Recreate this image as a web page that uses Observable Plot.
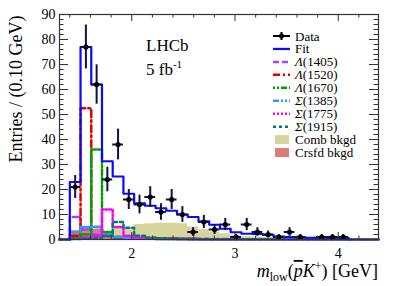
<!DOCTYPE html>
<html><head><meta charset="utf-8">
<script src="https://cdn.jsdelivr.net/npm/d3@7"></script>
<script src="https://cdn.jsdelivr.net/npm/@observablehq/plot@0.6"></script>
<style>body{margin:0;background:#fff}#chart{position:relative;width:399px;height:286px}</style>
</head><body><div id="chart"></div>
<script>
// ---- data ----
const xDomain = [1.3, 4.39];
const yDomain = [0, 90];
const binRange = [1.4, 4.1];
const nBins = 26;
const dataCounts = [21,77,62,24,38,16,14,17,11,16,10,3,7,4,6,1,6,3,2,1,3,1,0,1,1,1];
const fitValues  = [23,77,62,31.3,25.2,18.3,14.5,13.5,12.5,11.5,10,9,7.3,5.9,4.3,2.9,2.3,2.2,1.9,1.2,1.0,0.9,0.7,0.7,0.7,0.7];
const lambda1405 = [9,4,2,1.2,1,0.8,0.6,0.5,0.4,0.4,0.3,0.3,0.2,0.2,0.2,0.2,0.1,0.1,0.1,0.1,0.1,0.1,0.1,0.1,0.1,0.1];
const lambda1520 = [1.5,52.5,5,1.5,0.8,0.5,0.4,0.3,0.3,0.2,0.2,0.2,0.1,0.1,0.1,0.1,0.1,0.1,0.1,0.1,0.1,0.1,0.1,0.1,0.1,0.1];
const lambda1670 = [0.5,2,36,3,1,0.6,0.4,0.3,0.2,0.2,0.2,0.1,0.1,0.1,0.1,0.1,0.1,0.1,0.1,0.1,0.1,0.1,0.1,0.1,0.1,0.1];
const sigma1385  = [3,5,5,2,1,0.6,0.4,0.3,0.2,0.2,0.1,0.1,0.1,0.1,0.1,0.1,0.1,0.1,0.1,0.1,0.1,0.1,0.1,0.1,0.1,0.1];
const sigma1775  = [0.3,0.8,1.5,12,5,1.5,0.8,0.5,0.4,0.3,0.2,0.2,0.1,0.1,0.1,0.1,0.1,0.1,0.1,0.1,0.1,0.1,0.1,0.1,0.1,0.1];
const sigma1915  = [0.2,0.3,0.5,1.5,7,4.7,1.5,0.8,0.5,0.4,0.3,0.2,0.2,0.1,0.1,0.1,0.1,0.1,0.1,0.1,0.1,0.1,0.1,0.1,0.1,0.1];
const combBkg    = [0.8,1,1.2,2,4.5,4.8,6,6.3,6.5,6.5,6.3,5,4,3,2.3,1.6,1.2,1,0.8,0.6,0.5,0.4,0.3,0.3,0.2,0.2];
const crsfdBkg   = [3.5,4.5,4,3,1,0.5,0.2,0,0,0,0,0,0,0,0,0,0,0,0,0,0,0,0,0,0,0];
const yMajor = [0,10,20,30,40,50,60,70,80,90];
const xMajor = [2,3,4];
const xLabels = ["2","3","4"];
const legendLabels = ["Data","Fit","Λ(1405)","Λ(1520)","Λ(1670)","Σ(1385)","Σ(1775)","Σ(1915)","Comb bkgd","Crsfd bkgd"];

// ---- styles ----
const W = 399, H = 286, mL = 59, mR = 21, mT = 14, mB = 47;
const comps = [
  {name:"Λ(1405)", vals:lambda1405, color:"#a045ff", dash:"6,3"},
  {name:"Λ(1520)", vals:lambda1520, color:"#e00000", dash:"7,3,2,3"},
  {name:"Λ(1670)", vals:lambda1670, color:"#00a000", dash:"2,2,2,2,6,2"},
  {name:"Σ(1385)", vals:sigma1385, color:"#3399ff", dash:"6,2,2,2,2,2"},
  {name:"Σ(1775)", vals:sigma1775, color:"#ff00ff", dash:"2,2"},
  {name:"Σ(1915)", vals:sigma1915, color:"#007878", dash:"3,3"}
];
const combColor = "#d9d49c", crsfdColor = "#db7b7b", fitColor = "#0a0aff", dataColor = "#10104a";

const bw = (binRange[1]-binRange[0])/nBins;
const edges = d3.range(nBins+1).map(i => binRange[0] + i*bw);
const bins = dataCounts.map((c,i) => ({lo: edges[i], hi: edges[i+1], x: (edges[i]+edges[i+1])/2, n: c, e: Math.sqrt(c)}));
function steps(vals, pad) {
  const pts = [];
  if (pad) pts.push({x: xDomain[0], y: 0});
  pts.push({x: edges[0], y: 0});
  vals.forEach((v,i) => { pts.push({x: edges[i], y: v}); pts.push({x: edges[i+1], y: v}); });
  pts.push({x: edges[nBins], y: 0});
  if (pad) pts.push({x: xDomain[1], y: 0});
  return pts;
}
const kx = (xDomain[1]-xDomain[0])/(W-mL-mR);
const ky = (yDomain[1]-yDomain[0])/(H-mT-mB);
const yMinor = d3.range(0, 91, 2).filter(v => v % 10 !== 0);
const xMinor = d3.range(1.4, 4.39, 0.2).map(v => +v.toFixed(1)).filter(v => Math.abs(v - Math.round(v)) > 0.01);

const font = "Liberation Serif";
const plot = Plot.plot({
  width: W, height: H, marginLeft: mL, marginRight: mR, marginTop: mT, marginBottom: mB,
  style: {fontFamily: font, fontSize: "14px", background: "white", color: "#000"},
  x: {domain: xDomain},
  y: {domain: yDomain},
  marks: [
    Plot.area(steps(combBkg), {x1: "x", y1: 0, y2: "y", fill: combColor}),
    Plot.area(steps(crsfdBkg), {x1: "x", y1: 0, y2: "y", fill: crsfdColor}),
    ...comps.map(c => Plot.line(steps(c.vals, true), {x: "x", y: "y", stroke: c.color, strokeWidth: 2.5, strokeDasharray: c.dash})),
    Plot.line(steps(fitValues), {x: "x", y: "y", stroke: fitColor, strokeWidth: 2.2}),
    Plot.ruleX(bins.filter(d => d.n > 0), {x: "x", y1: d => d.n - d.e, y2: d => d.n + d.e, stroke: dataColor, strokeWidth: 2}),
    Plot.ruleY(bins.filter(d => d.n > 0), {y: "n", x1: "lo", x2: "hi", stroke: dataColor, strokeWidth: 2}),
    Plot.dot(bins.filter(d => d.n > 0), {x: "x", y: "n", r: 2.6, fill: "#000"}),
    // inward ticks
    Plot.ruleY(yMajor, {y: d => d, x1: xDomain[0], x2: xDomain[0] + 9*kx, stroke: "#333"}),
    Plot.ruleY(yMinor, {y: d => d, x1: xDomain[0], x2: xDomain[0] + 4.5*kx, stroke: "#333"}),
    Plot.ruleY(yMajor, {y: d => d, x1: xDomain[1] - 9*kx, x2: xDomain[1], stroke: "#333"}),
    Plot.ruleY(yMinor, {y: d => d, x1: xDomain[1] - 4.5*kx, x2: xDomain[1], stroke: "#333"}),
    Plot.ruleX(xMajor, {x: d => d, y1: yDomain[1], y2: yDomain[1] - 7*ky, stroke: "#333"}),
    Plot.ruleX(xMinor, {x: d => d, y1: yDomain[1], y2: yDomain[1] - 3.5*ky, stroke: "#333"}),
    Plot.ruleX(xMajor, {x: d => d, y1: 0, y2: 7*ky, stroke: "#333"}),
    Plot.ruleX(xMinor, {x: d => d, y1: 0, y2: 3.5*ky, stroke: "#333"}),
    Plot.frame({stroke: "#333", strokeWidth: 1.2}),
    Plot.axisY(yMajor, {tickSize: 0, tickPadding: 4, label: null, fontSize: 14}),
    Plot.axisX(xMajor, {tickSize: 0, tickPadding: 9, label: null, fontSize: 14, tickFormat: (d,i) => xLabels[i]})
  ]
});
document.getElementById("chart").appendChild(plot);
const svg = d3.select(plot);

// y title
svg.append("text").attr("transform", "translate(22,89) rotate(-90)").attr("text-anchor", "middle")
  .attr("font-family", font).attr("font-size", 18).text("Entries / (0.10 GeV)");
// x title
const xt = svg.append("text").attr("x", 378).attr("y", 277).attr("text-anchor", "end")
  .attr("font-family", font).attr("font-size", 18);
xt.append("tspan").attr("font-style", "italic").text("m");
xt.append("tspan").attr("font-size", 12).attr("dy", 4).text("low");
xt.append("tspan").attr("dy", -4).text("(");
xt.append("tspan").attr("font-style", "italic").style("text-decoration", "overline").text("p");
xt.append("tspan").attr("font-style", "italic").text("K");
xt.append("tspan").attr("font-size", 12).attr("dy", -7).text("+");
xt.append("tspan").attr("dy", 7).text(") [GeV]");
// LHCb
svg.append("text").attr("x", 146).attr("y", 51).attr("text-anchor", "start").attr("font-family", font).attr("font-size", 17).text("LHCb");
const lum = svg.append("text").attr("x", 146).attr("y", 75).attr("text-anchor", "start").attr("font-family", font).attr("font-size", 17);
lum.append("tspan").text("5 fb");
lum.append("tspan").attr("font-size", 11).attr("dy", -7).text("-1");

// legend
const lg = svg.append("g").attr("font-family", font).attr("font-size", 13).attr("text-anchor", "start");
const rowY = i => 36 + i*12.95;
legendLabels.forEach((lab, i) => {
  const y = rowY(i);
  const t = lg.append("text").attr("x", 295).attr("y", y + 4.5).attr("text-anchor", "start");
  const m = lab.match(/^([ΛΣ])(.*)$/);
  if (m) { t.append("tspan").attr("font-style", "italic").text(m[1]); t.append("tspan").text(m[2]); }
  else t.text(lab);
  if (i === 0) {
    lg.append("line").attr("x1", 273).attr("x2", 290).attr("y1", y).attr("y2", y).attr("stroke", "#000").attr("stroke-width", 2);
    lg.append("line").attr("x1", 281.5).attr("x2", 281.5).attr("y1", y-4).attr("y2", y+4).attr("stroke", "#000").attr("stroke-width", 2);
    lg.append("circle").attr("cx", 281.5).attr("cy", y).attr("r", 2.5).attr("fill", "#000");
  } else if (i === 1) {
    lg.append("line").attr("x1", 273).attr("x2", 290).attr("y1", y).attr("y2", y).attr("stroke", fitColor).attr("stroke-width", 2.2);
  } else if (i < 8) {
    const c = comps[i-2];
    lg.append("line").attr("x1", 273).attr("x2", 290).attr("y1", y).attr("y2", y).attr("stroke", c.color).attr("stroke-width", 2.5).attr("stroke-dasharray", c.dash);
  } else {
    lg.append("rect").attr("x", 275).attr("y", y-4.5).attr("width", 14).attr("height", 9).attr("fill", i === 8 ? combColor : crsfdColor);
  }
});
</script></body></html>
